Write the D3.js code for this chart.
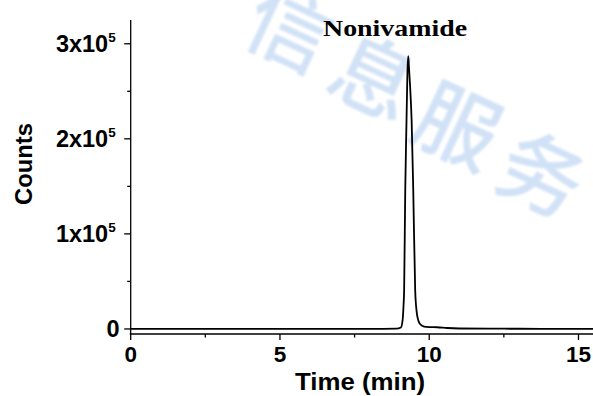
<!DOCTYPE html>
<html><head><meta charset="utf-8">
<script src="https://cdn.jsdelivr.net/npm/d3@7"></script>
<style>body{margin:0;background:#fff}svg{display:block}</style>
</head><body>
<svg id="c" width="593" height="396"></svg>
<script>
// Data: chromatogram (time in min, counts)
const times  = [0, 2, 4, 6, 8, 8.9, 9.05, 9.11, 9.14, 9.16, 9.197, 9.24, 9.27, 9.298, 9.32, 9.36, 9.41, 9.465, 9.53, 9.58, 9.63, 9.7, 9.83, 10.0, 10.27, 10.6, 11, 12, 13, 14, 15.5];
const counts = [0, 0, 0, 0, 0, 300, 1500, 9500, 25000, 41000, 146000, 220000, 270000, 287000, 276000, 255000, 220000, 146000, 41000, 18000, 9500, 5000, 2500, 2000, 1800, 1000, 500, 300, 200, 0, 0];
const xTicks = [0, 5, 10, 15];
const xMinor = [2.5, 7.5, 12.5];
const yTicks = [0, 100000, 200000, 300000];
const yTickLabels = ["0", "1x10", "2x10", "3x10"];
const yTickSup = ["", "5", "5", "5"];
const yMinor = [50000, 150000, 250000];
const title = "Nonivamide";
const xTitle = "Time (min)";
const yTitle = "Counts";
const watermark = ["信", "息", "服", "务"];

const svg = d3.select("#c");
const x = d3.scaleLinear().domain([0, 15.5]).range([130.7, 593.4]);
const y = d3.scaleLinear().domain([-5300, 325000]).range([334, 20]);

// watermark
const defs = svg.append("defs");
defs.append("filter").attr("id", "soft").append("feGaussianBlur").attr("stdDeviation", 1.3);
const wm = svg.append("g").attr("transform", "translate(292,24) rotate(30)").attr("filter", "url(#soft)");
wm.selectAll("text").data(watermark).join("text")
  .attr("x", (d, i) => i * 97).attr("y", 0)
  .attr("text-anchor", "middle").attr("dominant-baseline", "central")
  .attr("font-family", "'Noto Sans CJK SC'").attr("font-weight", "500").attr("font-size", 84)
  .attr("fill", "#d2e2f6")
  .attr("transform", (d, i) => `rotate(-5, ${i*97}, 0)`)
  .text(d => d);

const font = "'Liberation Sans', Arial, sans-serif";

// x axis
const xAxis = svg.append("g").attr("transform", `translate(0,${y.range()[0]})`);
xAxis.append("line").attr("x1", x(0) - 1).attr("x2", 593).attr("y1", 0).attr("y2", 0)
  .attr("stroke", "#000").attr("stroke-width", 1.3);
xAxis.selectAll(".maj").data(xTicks).join("line")
  .attr("x1", d => x(d)).attr("x2", d => x(d)).attr("y1", 0).attr("y2", 6)
  .attr("stroke", "#000").attr("stroke-width", 1.3);
xAxis.selectAll(".min").data(xMinor).join("line").attr("class", "min")
  .attr("x1", d => x(d)).attr("x2", d => x(d)).attr("y1", 0).attr("y2", 3.5)
  .attr("stroke", "#000").attr("stroke-width", 1.3);
xAxis.selectAll("text").data(xTicks).join("text")
  .attr("x", d => x(d)).attr("y", 28)
  .attr("text-anchor", "middle").attr("font-family", font).attr("font-weight", "bold")
  .attr("font-size", 22.5).text(d => d);

// y axis
const yAxis = svg.append("g").attr("transform", `translate(${x(0)},0)`);
yAxis.append("line").attr("x1", 0).attr("x2", 0).attr("y1", 20).attr("y2", y.range()[0])
  .attr("stroke", "#000").attr("stroke-width", 1.3);
yAxis.selectAll(".maj").data(yTicks).join("line").attr("class", "maj")
  .attr("x1", -6.5).attr("x2", 0).attr("y1", d => y(d)).attr("y2", d => y(d))
  .attr("stroke", "#000").attr("stroke-width", 1.3);
yAxis.selectAll(".min").data(yMinor).join("line").attr("class", "min")
  .attr("x1", -3.5).attr("x2", 0).attr("y1", d => y(d)).attr("y2", d => y(d))
  .attr("stroke", "#000").attr("stroke-width", 1.3);
const yl = yAxis.selectAll("text").data(yTicks).join("text")
  .attr("x", d => d === 0 ? -11 : -15).attr("y", d => y(d) + 8.5)
  .attr("text-anchor", "end").attr("font-family", font).attr("font-weight", "bold")
  .attr("font-size", 23.5);
yl.append("tspan").text((d, i) => yTickLabels[i]);
yl.append("tspan").attr("font-size", 13.5).attr("dy", -10.5).text((d, i) => yTickSup[i]);

// data line
svg.append("path").datum(times.map((t, i) => [t, counts[i]]))
  .attr("fill", "none").attr("stroke", "#000").attr("stroke-width", 1.8)
  .attr("stroke-linejoin", "round")
  .attr("d", d3.line().x(d => x(d[0])).y(d => y(d[1])).curve(d3.curveMonotoneX));

// titles
svg.append("text").attr("x", 360).attr("y", 390).attr("text-anchor", "middle")
  .attr("font-family", font).attr("font-weight", "bold").attr("font-size", 23)
  .attr("textLength", 130).attr("lengthAdjust", "spacingAndGlyphs").text(xTitle);
svg.append("text").attr("transform", "translate(32,164) rotate(-90)").attr("text-anchor", "middle")
  .attr("font-family", font).attr("font-weight", "bold").attr("font-size", 23)
  .attr("textLength", 82).attr("lengthAdjust", "spacingAndGlyphs").text(yTitle);
svg.append("text").attr("x", 395).attr("y", 36).attr("text-anchor", "middle")
  .attr("font-family", "'Liberation Serif', 'Times New Roman', serif").attr("font-weight", "bold")
  .attr("font-size", 23).attr("textLength", 144).attr("lengthAdjust", "spacingAndGlyphs").text(title);
</script>
</body></html>
